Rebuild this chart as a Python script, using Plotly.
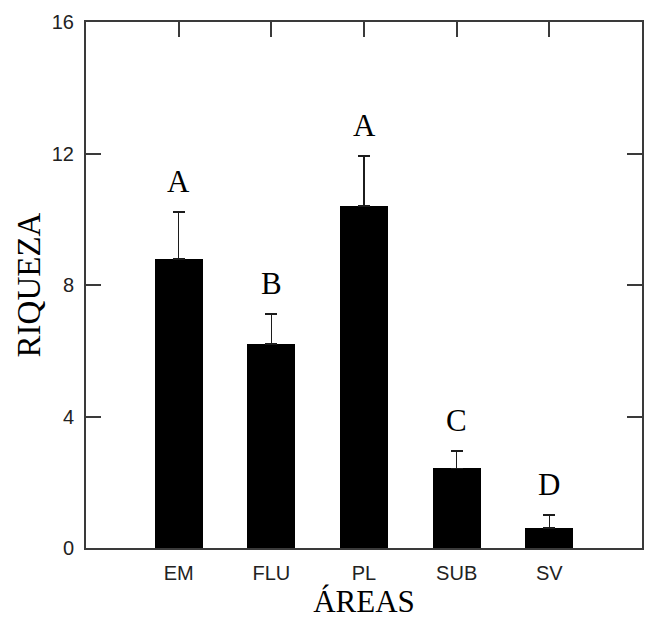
import plotly.graph_objects as go

categories = ["EM", "FLU", "PL", "SUB", "SV"]
means = [8.79, 6.21, 10.40, 2.42, 0.60]
errors = [1.43, 0.91, 1.52, 0.53, 0.40]
letters = ["A", "B", "A", "C", "D"]
y_ticks = [0, 4, 8, 12, 16]

xpos = list(range(len(categories)))
serif = "Liberation Serif, Times New Roman, serif"
sans = "Liberation Sans, Arial, sans-serif"

fig = go.Figure()
fig.add_trace(go.Bar(
    x=xpos, y=means, width=0.52,
    marker=dict(color="black", line=dict(width=0)),
    error_y=dict(type="data", array=errors, arrayminus=[0]*len(errors), symmetric=False,
                 color="#1c1c1c", thickness=1.6, width=6),
))

for x, m, e, t in zip(xpos, means, errors, letters):
    fig.add_annotation(x=x, y=m + e, text=t, showarrow=False, yanchor="bottom", yshift=11,
                       font=dict(family=serif, size=31, color="black"))

axis_common = dict(showline=True, linecolor="#3a3a3a", linewidth=2, mirror="ticks",
                   ticks="inside", ticklen=15, tickwidth=2, tickcolor="#3a3a3a",
                   showgrid=False, zeroline=False, layer="below traces",
                   ticklabelstandoff=6, automargin=False,
                   tickfont=dict(family=sans, size=20, color="#222222"))

fig.update_xaxes(range=[-1, 5], tickmode="array", tickvals=xpos, ticktext=categories,
                 title=dict(text="ÁREAS", font=dict(family=serif, size=31, color="black"), standoff=8),
                 **axis_common)
fig.update_yaxes(range=[0, 16], tickmode="array", tickvals=y_ticks, ticktext=[str(v) for v in y_ticks],
                 title=dict(text="RIQUEZA", font=dict(family=serif, size=33, color="black"), standoff=1),
                 **axis_common)

fig.update_layout(width=650, height=619, margin=dict(l=86, r=8, t=22, b=71),
                  plot_bgcolor="white", paper_bgcolor="white", showlegend=False, bargap=0)

fig.write_html("out.html")
